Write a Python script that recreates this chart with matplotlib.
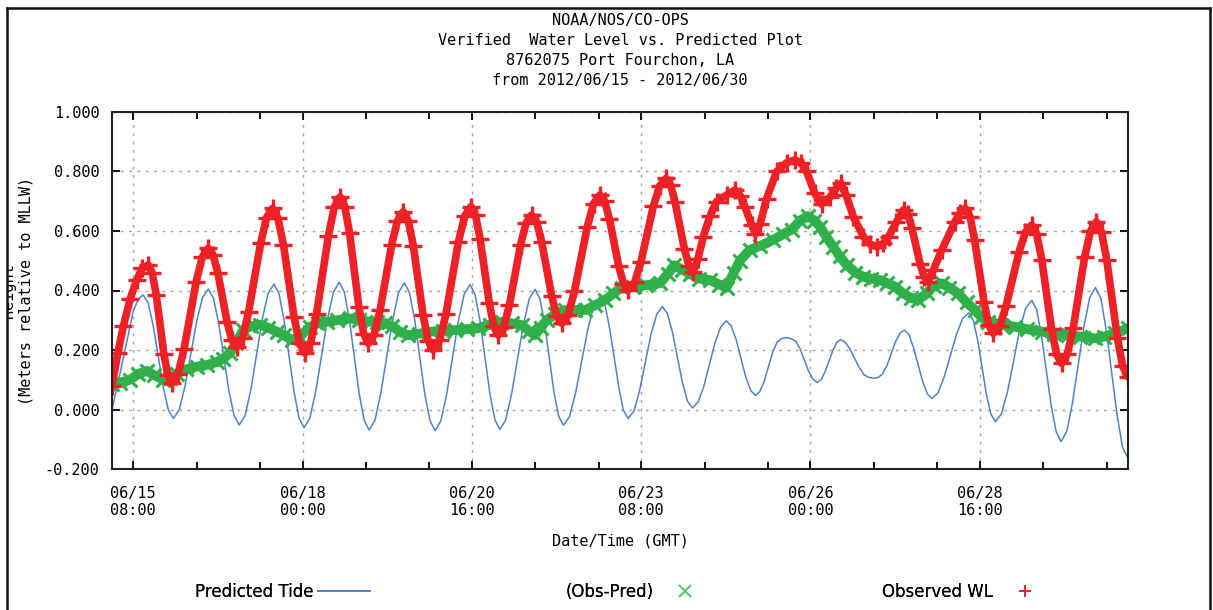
import numpy as np
import pandas as pd
import matplotlib
matplotlib.use('Agg')
import matplotlib.pyplot as plt
from matplotlib.ticker import FixedLocator, FuncFormatter
from matplotlib.lines import Line2D
from matplotlib.patches import Rectangle

# ---------------- data (hours since 2012-06-15 00:00 GMT, metres above MLLW) ----------------
START = pd.Timestamp('2012-06-15 00:00')

pred_hours = [0, 4, 8, 10, 11.8,
              13.7, 15.6, 19.4, 21.3, 23.2,
              25.4, 27.6, 32.0, 34.2, 36.4,
              38.35, 40.3, 44.2, 46.15, 48.1,
              50.3, 52.5, 56.8, 59.0, 61.2,
              63.1, 65.0, 68.8, 70.7, 72.6,
              74.8, 77.0, 81.5, 83.7, 85.9,
              87.8, 89.7, 93.4, 95.3, 97.2,
              99.4, 101.6, 106.1, 108.3, 110.5,
              112.4, 114.4, 118.2, 120.2, 122.1,
              124.3, 126.5, 130.9, 133.1, 135.3,
              137.2, 139.1, 142.8, 144.7, 146.6,
              148.8, 151.0, 155.5, 157.7, 159.9,
              161.7, 163.5, 167.0, 168.8, 170.6,
              172.9, 175.2, 179.9, 182.2, 184.5,
              186.3, 188.0, 191.6, 193.3, 195.1,
              197.3, 199.4, 203.7, 205.9, 208.0,
              209.9, 211.8, 215.6, 217.5, 219.4,
              221.5, 223.7, 227.9, 230.1, 232.2,
              234.0, 235.9, 239.5, 241.4, 243.2,
              244.8, 246.5, 249.7, 251.4, 253.0, 254.9, 256.8,
              258.4, 260.1, 263.3, 265.0, 266.6,
              268.1, 269.5, 272.5, 273.9, 275.4,
              277.2, 278.9, 282.5, 284.2, 286.0, 287.8, 289.6,
              291.2, 292.9, 296.1, 297.8, 299.4,
              301.2, 302.9, 306.4, 308.2, 309.9,
              312.2, 314.5, 319.2, 321.5, 323.8,
              325.5, 327.2, 330.5, 332.2, 333.9,
              336.2, 338.5, 343.0, 345.3, 347.6,
              349.5, 351.3, 355.0, 356.9, 358.7,
              360.9, 363.0, 367.4, 369.5, 371.7,
              373.8, 375.8, 379.9, 381.9, 384]
pred_vals = [0.000, 0.160, 0.330, 0.372, 0.385,
             0.357, 0.281, 0.074, -0.002, -0.030,
             -0.001, 0.079, 0.296, 0.376, 0.405,
             0.374, 0.291, 0.062, -0.021, -0.052,
             -0.020, 0.067, 0.304, 0.390, 0.422,
             0.390, 0.301, 0.060, -0.029, -0.061,
             -0.028, 0.061, 0.306, 0.395, 0.428,
             0.395, 0.304, 0.055, -0.036, -0.069,
             -0.036, 0.055, 0.302, 0.393, 0.426,
             0.393, 0.302, 0.053, -0.038, -0.071,
             -0.038, 0.052, 0.297, 0.387, 0.420,
             0.387, 0.298, 0.055, -0.034, -0.067,
             -0.035, 0.051, 0.286, 0.372, 0.404,
             0.373, 0.290, 0.061, -0.022, -0.053,
             -0.024, 0.055, 0.272, 0.351, 0.380,
             0.353, 0.277, 0.072, -0.003, -0.030,
             -0.005, 0.064, 0.252, 0.321, 0.346,
             0.323, 0.261, 0.090, 0.028, 0.005,
             0.025, 0.078, 0.225, 0.278, 0.298,
             0.281, 0.235, 0.110, 0.064, 0.047,
             0.060, 0.095, 0.192, 0.227, 0.238, 0.242, 0.238,
             0.230, 0.203, 0.128, 0.101, 0.091,
             0.101, 0.127, 0.199, 0.225, 0.235,
             0.226, 0.203, 0.140, 0.117, 0.108, 0.105, 0.108,
             0.119, 0.148, 0.227, 0.256, 0.267,
             0.252, 0.209, 0.094, 0.052, 0.037,
             0.056, 0.109, 0.253, 0.306, 0.325,
             0.300, 0.233, 0.050, -0.016, -0.041,
             -0.014, 0.061, 0.265, 0.340, 0.367,
             0.335, 0.248, 0.011, -0.076, -0.108,
             -0.073, 0.022, 0.281, 0.375, 0.410,
             0.372, 0.266, -0.020, -0.126, -0.164]

obs_hours = [0, 2.2, 4.3, 6.8, 9.3, 11.5, 13.7,
             15.2, 16.7, 19.6, 21.1, 22.6,
             24.9, 27.2, 31.8, 34.1, 36.4,
             38.2, 40.0, 43.5, 45.3, 47.1,
             49.4, 51.6, 56.2, 58.4, 60.7,
             62.7, 64.8, 68.8, 70.9, 72.9,
             75.1, 77.3, 81.8, 84.0, 86.2,
             88.0, 89.8, 93.3, 95.1, 96.9,
             99.1, 101.3, 105.7, 107.9, 110.1,
             112.0, 113.9, 117.6, 119.5, 121.4,
             123.8, 126.2, 130.9, 133.3, 135.7,
             137.4, 139.1, 142.6, 144.3, 146.0,
             148.1, 150.2, 154.4, 156.5, 158.6,
             160.5, 162.4, 166.2, 168.1, 170.0,
             172.4, 174.8, 179.6, 182.0, 184.4,
             186.2, 188.0, 191.5, 193.3, 195.1,
             197.5, 199.9, 204.6, 207.0, 209.4,
             211.1, 212.8, 216.3, 218.0, 219.7,
             221.4, 223.5, 226.0, 228.5, 232.3, 235.5, 237.5, 239.2, 241.8, 243.2,
             245.0, 247.4, 251.2, 255.0, 258.1, 260.5, 262.5, 265.6, 268.2,
             271.5, 273.8, 275.6, 277.5, 280.2, 284.0, 286.5, 289.2,
             291.5, 293.5, 296.5, 299.2,
             300.8, 302.3, 305.4, 307.0, 308.5,
             310.5, 313.6, 318.6, 320.6, 322.5,
             324.3, 326.0, 329.6, 331.3, 333.1,
             335.5, 337.9, 342.8, 345.2, 347.6,
             349.5, 351.4, 355.1, 357.0, 358.9,
             361.1, 363.3, 367.6, 369.8, 372.0,
             374.0, 376.0, 380.0, 382.0, 384.0]
obs_vals = [0.080, 0.190, 0.280, 0.370, 0.435, 0.475, 0.486,
            0.459, 0.386, 0.187, 0.115, 0.088,
            0.118, 0.202, 0.429, 0.512, 0.542,
            0.520, 0.459, 0.294, 0.233, 0.211,
            0.242, 0.327, 0.560, 0.645, 0.676,
            0.643, 0.554, 0.311, 0.222, 0.189,
            0.224, 0.321, 0.584, 0.680, 0.715,
            0.682, 0.592, 0.345, 0.255, 0.222,
            0.252, 0.333, 0.554, 0.635, 0.665,
            0.634, 0.549, 0.316, 0.231, 0.200,
            0.232, 0.320, 0.562, 0.650, 0.682,
            0.653, 0.574, 0.358, 0.279, 0.250,
            0.277, 0.351, 0.553, 0.627, 0.654,
            0.630, 0.563, 0.381, 0.314, 0.290,
            0.319, 0.398, 0.613, 0.692, 0.721,
            0.700, 0.641, 0.482, 0.423, 0.402,
            0.427, 0.496, 0.683, 0.752, 0.777,
            0.756, 0.698, 0.541, 0.484, 0.463,
            0.505, 0.581, 0.650, 0.699, 0.721, 0.738, 0.718, 0.682, 0.620, 0.590,
            0.625, 0.709, 0.800, 0.830, 0.839, 0.828, 0.800, 0.727, 0.690,
            0.715, 0.745, 0.760, 0.720, 0.648, 0.581, 0.556, 0.547,
            0.558, 0.581, 0.630, 0.672,
            0.656, 0.611, 0.490, 0.446, 0.430,
            0.470, 0.536, 0.631, 0.662, 0.676,
            0.648, 0.571, 0.361, 0.284, 0.256,
            0.280, 0.347, 0.529, 0.596, 0.620,
            0.589, 0.504, 0.271, 0.186, 0.155,
            0.187, 0.274, 0.512, 0.599, 0.631,
            0.596, 0.501, 0.240, 0.145, 0.110]

diff_hours = [0, 3, 6.8, 10, 13.1, 16, 19.4, 22, 24.4, 28, 32, 36, 39.6, 42, 44.6, 47, 49.6, 52.5, 55.9,
              59, 62.2, 65, 67.9, 71, 74.8, 78, 81.1, 85, 90, 93.5, 97.5, 100, 103.2, 106, 109, 112, 116,
              120.8, 125, 129.6, 134, 138.4, 143, 147.3, 151, 154.8, 157.5, 159.9, 162, 164.3, 167.5,
              171.2, 175, 178.8, 182.5, 186.3, 189.5, 192.6, 197, 202, 207, 210, 212.5, 215.5, 218.5,
              222, 226, 229.5, 232.3, 235, 237.3, 241, 245, 249.9, 253.7, 257, 260, 263, 265.5, 267.6,
              270, 272.6, 275, 277.7, 281, 284, 287, 290.2, 293, 295.9, 299, 302, 304.7, 308, 310.5,
              313.6, 316.5, 319.8, 323, 326.2, 328.5, 331.2, 336, 341.3, 346, 351.4, 356, 361.4, 366,
              371.5, 375, 379.1, 384]
diff_vals = [0.085, 0.090, 0.100, 0.120, 0.130, 0.115, 0.100, 0.105, 0.120, 0.135, 0.144, 0.150, 0.160,
             0.170, 0.190, 0.225, 0.267, 0.280, 0.285, 0.275, 0.262, 0.250, 0.234, 0.245, 0.278, 0.290,
             0.295, 0.300, 0.306, 0.300, 0.295, 0.295, 0.290, 0.280, 0.260, 0.250, 0.255, 0.262, 0.265,
             0.267, 0.270, 0.273, 0.285, 0.295, 0.290, 0.284, 0.265, 0.250, 0.275, 0.301, 0.320, 0.334,
             0.335, 0.334, 0.350, 0.368, 0.390, 0.410, 0.413, 0.418, 0.424, 0.455, 0.485, 0.470, 0.455,
             0.440, 0.435, 0.420, 0.410, 0.460, 0.500, 0.536, 0.550, 0.570, 0.590, 0.605, 0.635, 0.650,
             0.635, 0.615, 0.580, 0.547, 0.515, 0.486, 0.460, 0.446, 0.440, 0.435, 0.425, 0.413, 0.390,
             0.375, 0.368, 0.390, 0.415, 0.424, 0.410, 0.390, 0.360, 0.334, 0.310, 0.295, 0.285, 0.278,
             0.270, 0.262, 0.255, 0.250, 0.245, 0.239, 0.245, 0.256, 0.273]

y_ticks = [-0.2, 0.0, 0.2, 0.4, 0.6, 0.8, 1.0]
x_major_hours = [8, 72, 136, 200, 264, 328]

title_lines = ["NOAA/NOS/CO-OPS",
               "Verified  Water Level vs. Predicted Plot",
               "8762075 Port Fourchon, LA",
               "from 2012/06/15 - 2012/06/30"]

# ---------------- styling ----------------
BLUE = '#4f82c8'
GREEN = '#30b04a'
RED = '#ee2127'
GRID = '#a4a4a4'
MONO = 'DejaVu Sans Mono'

W, H = 1213, 610
fig = plt.figure(figsize=(W / 100, H / 100), dpi=100)
fig.patch.set_facecolor('white')
ax = fig.add_axes([112 / W, 1 - 469 / H, (1128 - 112) / W, (469 - 112) / H])

ax.plot(pred_hours, pred_vals, color=BLUE, lw=1.1, zorder=2)
ax.plot(diff_hours, diff_vals, color=GREEN, lw=7.0, solid_capstyle='round', solid_joinstyle='round', zorder=3)
ax.plot(diff_hours, diff_vals, ls='none', marker='x', ms=10.5, mew=2.2, color=GREEN, zorder=3)
ax.plot(obs_hours, obs_vals, color=RED, lw=5.5, solid_capstyle='round', solid_joinstyle='round', zorder=4)
ax.plot(obs_hours, obs_vals, ls='none', marker='+', ms=12.5, mew=2.4, color=RED, zorder=4)

ax.set_xlim(0, 384)
ax.set_ylim(-0.2, 1.0)

minor_hours = [m + d for m in x_major_hours for d in (24, 48) if m + d < 384]
ax.xaxis.set_major_locator(FixedLocator(x_major_hours))
ax.xaxis.set_minor_locator(FixedLocator(minor_hours))
ax.xaxis.set_major_formatter(FuncFormatter(
    lambda h, pos: (START + pd.Timedelta(hours=float(h))).strftime('%m/%d\n%H:%M')))
ax.yaxis.set_major_locator(FixedLocator(y_ticks))
ax.yaxis.set_major_formatter(FuncFormatter(lambda v, pos: f"{round(v, 3) + 0.0:.3f}"))

ax.grid(True, which='major', axis='both', color=GRID, linestyle=(0, (2, 4)), lw=1.0, zorder=1)
ax.tick_params(which='both', direction='in', top=True, right=True, width=1.3, color='black')
ax.tick_params(which='major', length=6)
ax.tick_params(which='minor', length=5)
ax.tick_params(axis='x', which='major', pad=12, labelsize=11, labelfontfamily=MONO)
ax.tick_params(axis='y', which='major', pad=9, labelsize=11, labelfontfamily=MONO)
for sp in ax.spines.values():
    sp.set_linewidth(1.5)
    sp.set_color('#222222')
    sp.set_zorder(6)

ax.set_xlabel('Date/Time (GMT)', fontfamily=MONO, fontsize=11, labelpad=11)

# titles
for i, line in enumerate(title_lines):
    fig.text(620 / W, 1 - (20 + 20.3 * i) / H, line, ha='center', va='center',
             fontfamily=MONO, fontsize=11)

# y label (first line partly clipped by the page border, as in the original)
fig.text(17.5 / W, 1 - 291 / H, 'Height\n(Meters relative to MLLW)', rotation=90,
         ha='center', va='center', multialignment='center', fontfamily=MONO, fontsize=11,
         linespacing=1.25)

# key
key_specs = [
    (Line2D([], [], color=BLUE, lw=1.3), 'Predicted Tide', 370, 3.1, 0.3),
    (Line2D([], [], ls='none', marker='x', ms=9, mew=1.2, color='#5cc46a'), '(Obs-Pred)', 710, 3.0, 0.4),
    (Line2D([], [], ls='none', marker='+', ms=9, mew=1.2, color=RED), 'Observed WL', 1050, 3.0, 0.4),
]
for handle, label, right_px, hl, htp in key_specs:
    leg = fig.legend([handle], [label], loc='center right', bbox_to_anchor=(right_px / W, 1 - 592 / H),
                     frameon=False, markerfirst=False, handlelength=hl, handletextpad=htp,
                     borderpad=0, borderaxespad=0, prop={'family': 'DejaVu Sans', 'size': 12})
    fig.add_artist(leg)

# page border
fig.add_artist(Rectangle((0, 0), 7 / W, 1, transform=fig.transFigure, facecolor='white',
                         edgecolor='none', zorder=20))
fig.add_artist(Line2D([7 / W, 7 / W], [0, 1 - 8 / H], transform=fig.transFigure, color='#111111',
                      lw=1.8, zorder=21))
fig.add_artist(Line2D([7 / W, 1210 / W], [1 - 8 / H, 1 - 8 / H], transform=fig.transFigure,
                      color='#111111', lw=1.8, zorder=21))
fig.add_artist(Line2D([1210 / W, 1210 / W], [0, 1 - 8 / H], transform=fig.transFigure,
                      color='#111111', lw=1.8, zorder=21))

fig.savefig('out.png', dpi=100, facecolor='white')
